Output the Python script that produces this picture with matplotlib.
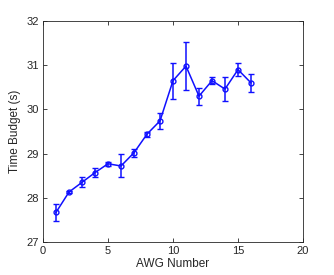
import matplotlib.pyplot as plt
import numpy as np

awg = [1, 2, 3, 4, 5, 6, 7, 8, 9, 10, 11, 12, 13, 14, 15, 16]
budget = [27.67, 28.13, 28.35, 28.57, 28.77, 28.72, 29.02, 29.44, 29.74,
          30.65, 30.98, 30.30, 30.65, 30.46, 30.90, 30.60]
err = [0.19, 0.02, 0.11, 0.10, 0.05, 0.26, 0.09, 0.06, 0.18,
       0.41, 0.55, 0.19, 0.08, 0.28, 0.15, 0.20]

plt.rcParams['font.family'] = ['Liberation Sans', 'DejaVu Sans']

fig = plt.figure(figsize=(3.34, 2.75), dpi=100)
ax = fig.add_axes([43 / 334, 1 - 242 / 275, 260 / 334, 221 / 275])

ax.errorbar(awg, budget, yerr=err, color='#1010ff', marker='o', markersize=3.5,
            markerfacecolor='none', markeredgewidth=1.0, linewidth=1.1,
            elinewidth=1.1, capsize=2, capthick=1.1)

ax.set_xlim(0, 20)
ax.set_ylim(27, 32)
ax.set_xticks([0, 5, 10, 15, 20])
ax.set_yticks([27, 28, 29, 30, 31, 32])
ax.tick_params(direction='in', length=3, width=0.6, labelsize=8, colors='#262626',
               top=True, right=True, pad=3)
for s in ax.spines.values():
    s.set_linewidth(0.6)
    s.set_color('#262626')
ax.set_xlabel('AWG Number', fontsize=8.5, color='#262626', labelpad=1)
ax.set_ylabel('Time Budget (s)', fontsize=8.5, color='#262626', labelpad=4)

fig.savefig('out.png', dpi=100)
